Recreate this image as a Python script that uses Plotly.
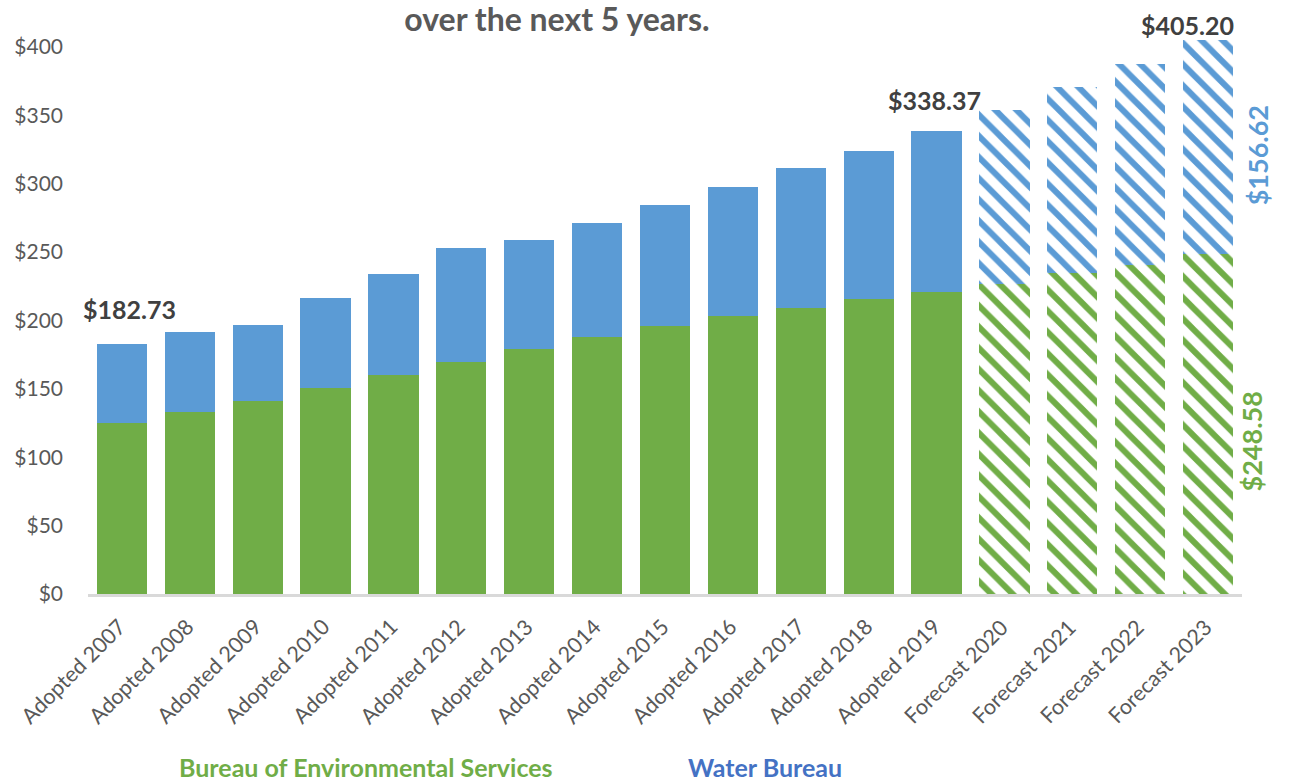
import plotly.graph_objects as go

# Budget years: adopted rates through 2019, forecasts after
categories = [
    "Adopted 2007", "Adopted 2008", "Adopted 2009", "Adopted 2010", "Adopted 2011",
    "Adopted 2012", "Adopted 2013", "Adopted 2014", "Adopted 2015", "Adopted 2016",
    "Adopted 2017", "Adopted 2018", "Adopted 2019", "Forecast 2020", "Forecast 2021",
    "Forecast 2022", "Forecast 2023",
]
is_forecast = [c.startswith("Forecast") for c in categories]

# Monthly combined bill components ($)
bes_values = [124.8, 133.3, 140.9, 150.6, 159.9, 169.6, 178.9, 188.1, 195.7,
              203.0, 209.3, 215.6, 221.0, 226.6, 234.4, 240.5, 248.58]
total_values = [182.73, 191.7, 196.6, 216.6, 233.9, 253.1, 258.5, 270.9, 284.3,
                297.7, 311.1, 324.0, 338.37, 353.7, 370.3, 387.3, 405.20]
water_values = [round(t - b, 2) for t, b in zip(total_values, bes_values)]

# Totals called out above selected bars: (index, x shift px, y shift px)
total_callouts = [(0, 8, 35), (12, -2, 31), (16, -21, 15)]

GREEN = "#70AD47"
BLUE = "#5B9BD5"
FONT = "Lato"

W, H = 1296, 783
ML, MR, MT, MB = 88, 54, 30, 189
PLOT_W = W - ML - MR
PLOT_H = H - MT - MB


def paper_x(px):
    return (px - ML) / PLOT_W


def paper_y(py):
    return (H - MB - py) / PLOT_H


def bar_trace(name, values, color):
    return go.Bar(
        name=name,
        x=categories,
        y=values,
        marker=dict(
            color=color,
            line=dict(width=0),
            pattern=dict(
                shape=["\\" if f else "" for f in is_forecast],
                fgcolor=color,
                fgopacity=1,
                bgcolor="white",
                size=15,
                solidity=0.4,
            ),
        ),
        showlegend=False,
        hoverinfo="x+y+name",
    )


fig = go.Figure()
fig.add_trace(bar_trace("Bureau of Environmental Services", bes_values, GREEN))
fig.add_trace(bar_trace("Water Bureau", water_values, BLUE))

annotations = []
for i, dx, dy in total_callouts:
    annotations.append(dict(
        x=categories[i], y=total_values[i], xref="x", yref="y",
        text=f"${total_values[i]:.2f}", showarrow=False,
        xshift=dx, yshift=dy, yanchor="middle",
        font=dict(family=FONT, size=25, color="#404040", weight="bold"),
    ))

# Component values of the last forecast year, beside the last bar
last = len(categories) - 1
annotations.append(dict(
    x=paper_x(1276), y=bes_values[last] + water_values[last] / 2, xref="paper", yref="y",
    text=f"${water_values[last]:.2f}", showarrow=False, textangle=-90,
    yshift=-9, font=dict(family=FONT, size=27, color=BLUE, weight="bold"),
))
annotations.append(dict(
    x=paper_x(1270), y=bes_values[last] / 2, xref="paper", yref="y",
    text=f"${bes_values[last]:.2f}", showarrow=False, textangle=-90,
    yshift=-18, font=dict(family=FONT, size=27, color=GREEN, weight="bold"),
))

# Slanted category labels under the axis
for c in categories:
    annotations.append(dict(
        x=c, y=paper_y(611), xref="x", yref="paper",
        text=c, showarrow=False, textangle=-45,
        xanchor="right", yanchor="top", xshift=12,
        font=dict(family=FONT, size=21.5, color="#595959"),
    ))

# Series names along the bottom
annotations.append(dict(
    x=paper_x(366), y=paper_y(767), xref="paper", yref="paper",
    xanchor="center", yanchor="middle",
    text="Bureau of Environmental Services", showarrow=False,
    font=dict(family=FONT, size=25, color=GREEN, weight="bold"),
))
annotations.append(dict(
    x=paper_x(765), y=paper_y(767), xref="paper", yref="paper",
    xanchor="center", yanchor="middle",
    text="Water Bureau", showarrow=False,
    font=dict(family=FONT, size=25, color="#4472C4", weight="bold"),
))

fig.update_layout(
    width=W,
    height=H,
    barmode="stack",
    bargap=0.26,
    plot_bgcolor="white",
    paper_bgcolor="white",
    margin=dict(l=ML, r=MR, t=MT, b=MB),
    title=dict(
        text="over the next 5 years.",
        x=557 / W, xanchor="center", xref="container",
        y=1 - 20 / H, yanchor="middle", yref="container",
        font=dict(family=FONT, size=32, color="#595959", weight="bold"),
    ),
    xaxis=dict(
        range=[-0.5, len(categories) - 0.5],
        autorange=False,
        showticklabels=False,
        showgrid=False,
        showline=True,
        linecolor="#D9D9D9",
        linewidth=3,
        ticks="",
        automargin=False,
    ),
    yaxis=dict(
        range=[0, 412.3],
        autorange=False,
        tickvals=[0, 50, 100, 150, 200, 250, 300, 350, 400],
        ticktext=["$0", "$50", "$100", "$150", "$200", "$250", "$300", "$350", "$400"],
        showgrid=False,
        showline=False,
        zeroline=False,
        ticks="",
        tickfont=dict(family=FONT, size=21, color="#595959"),
        ticklabelstandoff=24,
        automargin=False,
    ),
    annotations=annotations,
)

fig.write_html("out.html")
